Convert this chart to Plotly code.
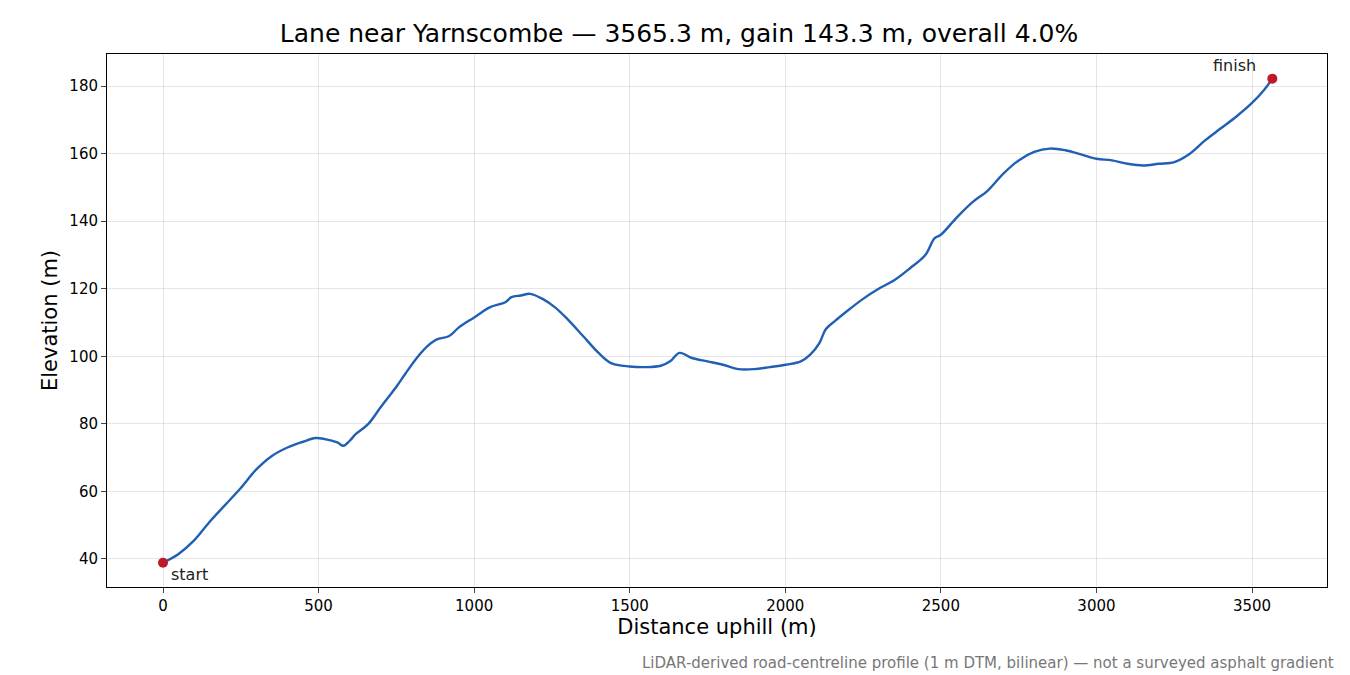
import plotly.graph_objects as go

dist = [0,50,100,150,200,250,300,350,400,450,490,520,560,580,600,620,660,700,750,780,820,850,880,920,950,1000,1050,1100,1120,1150,1180,1220,1260,1300,1350,1400,1440,1500,1550,1600,1630,1660,1700,1750,1800,1850,1900,1950,2000,2050,2080,2110,2130,2160,2200,2250,2300,2350,2400,2450,2480,2500,2550,2600,2650,2700,2750,2800,2850,2900,2950,3000,3050,3100,3150,3200,3250,3300,3350,3400,3450,3500,3540,3565.3]
elev = [38.9,41.5,45.5,51,56,61,66.5,70.5,73,74.7,75.8,75.5,74.5,73.5,75,77,80,85,91,95,100,103,105,106,108.5,111.5,114.5,116,117.5,118,118.5,117,114.5,111,106,101,98,97,96.8,97.2,98.5,101,99.5,98.5,97.5,96.2,96.2,96.8,97.5,98.5,100.5,104,108,110.5,113.5,117,120,122.5,126,130,135,136,141,145.5,149,154,158,160.5,161.5,161,159.8,158.5,158,157,156.5,157,157.5,160,164,167.5,171,175,179,182.2]

fig = go.Figure()
fig.add_trace(go.Scatter(x=dist, y=elev, mode="lines", line=dict(color="#1f5fb4", width=2.4), line_shape="spline", showlegend=False))
fig.add_trace(go.Scatter(x=[dist[0], dist[-1]], y=[elev[0], elev[-1]], mode="markers",
                         marker=dict(color="#c0182a", size=10), showlegend=False))
fig.add_annotation(x=dist[0], y=elev[0], text="start", showarrow=False, xanchor="left", yanchor="top", xshift=6, yshift=0, font=dict(size=16, color="#222"))
fig.add_annotation(x=dist[-1], y=elev[-1], text="finish", showarrow=False, xanchor="right", yanchor="bottom", xshift=-14, yshift=2, font=dict(size=16, color="#222"))
fig.add_annotation(xref="paper", yref="paper", x=1.007, y=-0.122, text="LiDAR-derived road-centreline profile (1 m DTM, bilinear) — not a surveyed asphalt gradient",
                   showarrow=False, xanchor="right", yanchor="top", font=dict(size=15, color="#777"))
ax = dict(showline=True, mirror=True, linecolor="black", linewidth=1, ticks="outside", ticklen=5,
          gridcolor="rgba(0,0,0,0.1)", zeroline=False, tickfont=dict(size=15, color="black"))
fig.update_xaxes(**ax, range=[-180, 3741], tickvals=[0,500,1000,1500,2000,2500,3000,3500],
                 title=dict(text="Distance uphill (m)", font=dict(size=21), standoff=4))
fig.update_yaxes(**ax, range=[31.7, 189.5], tickvals=[40,60,80,100,120,140,160,180],
                 title=dict(text="Elevation (m)", font=dict(size=21), standoff=6))
fig.update_layout(width=1342, height=667, paper_bgcolor="white", plot_bgcolor="white",
                  margin=dict(l=99, r=23, t=46, b=88, autoexpand=False),
                  font=dict(family="DejaVu Sans", color="black"),
                  title=dict(text="Lane near Yarnscombe — 3565.3 m, gain 143.3 m, overall 4.0%", x=0.5, xanchor="center",
                             y=0.962, yanchor="middle", font=dict(size=25)))
fig.write_html("out.html")
